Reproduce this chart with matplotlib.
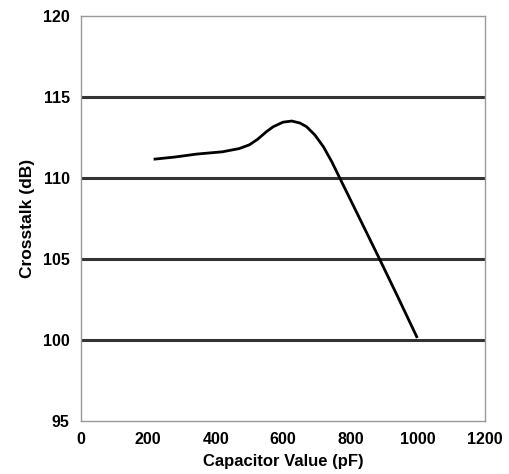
import matplotlib
matplotlib.use("Agg")
from matplotlib import pyplot as plt

# crosstalk vs capacitor value
cap_pf = [220, 280, 344, 420, 470, 500, 525, 550, 571, 600, 626, 650, 670, 695, 720, 745, 769, 830, 888, 940, 997]
crosstalk_db = [111.17, 111.3, 111.48, 111.62, 111.82, 112.05, 112.4, 112.85, 113.17, 113.45, 113.52, 113.4, 113.17, 112.65, 111.93, 111.0, 109.98, 107.4, 104.94, 102.7, 100.2]

x_ticks = [0, 200, 400, 600, 800, 1000, 1200]
y_ticks = [95, 100, 105, 110, 115, 120]

plt.rcParams['font.family'] = ['Liberation Sans', 'DejaVu Sans']
plt.rcParams['font.weight'] = 'bold'

fig = plt.figure(figsize=(5.09, 4.74), dpi=100)
ax = fig.add_axes([0.159, 0.112, 0.794, 0.854])

for y in y_ticks[1:-1]:
    ax.axhline(y, color='#333333', lw=2.2, zorder=1)

ax.plot(cap_pf, crosstalk_db, color='black', lw=2, zorder=3, solid_joinstyle='round')

ax.set_xlim(0, 1200)
ax.set_ylim(95, 120)
ax.set_xticks(x_ticks)
ax.set_yticks(y_ticks)
ax.tick_params(length=0, labelsize=11.5)
ax.tick_params(axis='x', pad=8)
ax.tick_params(axis='y', pad=8)
for lab in ax.get_xticklabels() + ax.get_yticklabels():
    lab.set_fontweight('bold')
for s in ax.spines.values():
    s.set_color('#999999')
    s.set_linewidth(1)

ax.set_xlabel('Capacitor Value (pF)', fontsize=12, fontweight='bold', labelpad=5)
ax.set_ylabel('Crosstalk (dB)', fontsize=12.5, fontweight='bold', labelpad=6)

fig.savefig('out.png', dpi=100)
